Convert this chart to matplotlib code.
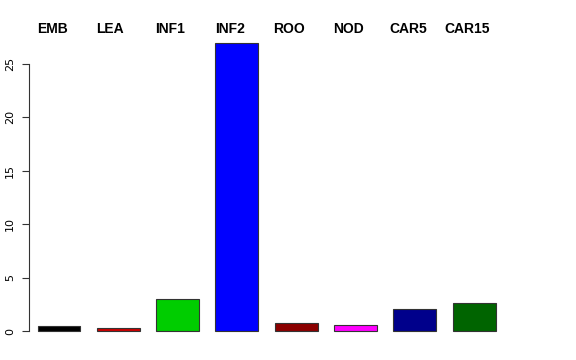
import matplotlib.pyplot as plt
import numpy as np

tissues = ['EMB', 'LEA', 'INF1', 'INF2', 'ROO', 'NOD', 'CAR5', 'CAR15']
values = [0.43, 0.24, 2.96, 26.97, 0.76, 0.55, 2.09, 2.62]
colors = ['#000000', '#CD0000', '#00CD00', '#0000FF',
          '#8B0000', '#FF00FF', '#00008B', '#006400']

# label centres along the top, in pixels
label_x = np.array([52, 110, 170, 230, 289, 349, 408, 467])

fig = plt.figure(figsize=(5.76, 3.6), dpi=100)
ax = fig.add_axes([29 / 576, 20 / 360, 501 / 576, 310 / 360])

x = np.arange(len(tissues))
ax.bar(x, values, width=0.725, color=colors, edgecolor='#333333', linewidth=0.8)

ax.set_xlim(-0.506, 7.943)
ax.set_ylim(-0.84, 28.18)

for s in ['top', 'right', 'bottom']:
    ax.spines[s].set_visible(False)
ax.spines['left'].set_bounds(0, 25)
ax.spines['left'].set_color('#333333')
ax.set_xticks([])
ax.set_yticks([0, 5, 10, 15, 20, 25])
ax.tick_params(axis='y', length=5, pad=5, labelsize=8, color='#333333')
for lab in ax.get_yticklabels():
    lab.set_rotation(90)
    lab.set_va('center')

for name, px in zip(tissues, label_x):
    fig.text(px / 576, 1 - 29 / 360, name, ha='center', va='center',
             fontsize=10, fontweight='bold', family='Liberation Sans')

fig.savefig('out.png', dpi=100)
